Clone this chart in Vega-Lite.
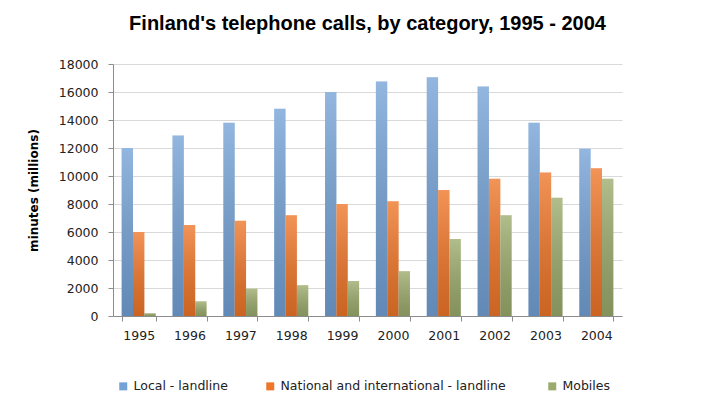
{
  "$schema": "https://vega.github.io/schema/vega-lite/v6.json",
  "autosize": "none",
  "width": 509,
  "height": 252,
  "padding": {"left": 113, "top": 64, "right": 79, "bottom": 80},
  "background": "white",
  "title": {"text": "Finland's telephone calls, by category, 1995 - 2004", "font": "Liberation Sans", "fontSize": 20, "fontWeight": "bold", "color": "#000000", "anchor": "middle", "offset": 24},
  "data": {"values": [
    {"year": "1995", "category": "Local - landline", "minutes": 12000},
    {"year": "1996", "category": "Local - landline", "minutes": 12900},
    {"year": "1997", "category": "Local - landline", "minutes": 13800},
    {"year": "1998", "category": "Local - landline", "minutes": 14800},
    {"year": "1999", "category": "Local - landline", "minutes": 16000},
    {"year": "2000", "category": "Local - landline", "minutes": 16750},
    {"year": "2001", "category": "Local - landline", "minutes": 17050},
    {"year": "2002", "category": "Local - landline", "minutes": 16400},
    {"year": "2003", "category": "Local - landline", "minutes": 13800},
    {"year": "2004", "category": "Local - landline", "minutes": 11950},
    {"year": "1995", "category": "National and international  - landline", "minutes": 6000},
    {"year": "1996", "category": "National and international  - landline", "minutes": 6500},
    {"year": "1997", "category": "National and international  - landline", "minutes": 6800},
    {"year": "1998", "category": "National and international  - landline", "minutes": 7200},
    {"year": "1999", "category": "National and international  - landline", "minutes": 8000},
    {"year": "2000", "category": "National and international  - landline", "minutes": 8200},
    {"year": "2001", "category": "National and international  - landline", "minutes": 9000},
    {"year": "2002", "category": "National and international  - landline", "minutes": 9800},
    {"year": "2003", "category": "National and international  - landline", "minutes": 10250},
    {"year": "2004", "category": "National and international  - landline", "minutes": 10550},
    {"year": "1995", "category": "Mobiles", "minutes": 200},
    {"year": "1996", "category": "Mobiles", "minutes": 1050},
    {"year": "1997", "category": "Mobiles", "minutes": 1950},
    {"year": "1998", "category": "Mobiles", "minutes": 2200},
    {"year": "1999", "category": "Mobiles", "minutes": 2500},
    {"year": "2000", "category": "Mobiles", "minutes": 3200},
    {"year": "2001", "category": "Mobiles", "minutes": 5500},
    {"year": "2002", "category": "Mobiles", "minutes": 7200},
    {"year": "2003", "category": "Mobiles", "minutes": 8450},
    {"year": "2004", "category": "Mobiles", "minutes": 9800}
  ]},
  "encoding": {
    "x": {
      "field": "year", "type": "nominal",
      "scale": {"paddingInner": 0.33, "paddingOuter": 0.17},
      "axis": {"title": null, "labelAngle": 0, "labelFont": "DejaVu Sans", "labelFontSize": 12.5, "labelColor": "#222222", "tickBand": "extent", "tickColor": "#8c8c8c", "tickSize": 5, "domainColor": "#8c8c8c", "labelPadding": 8, "grid": false}
    },
    "xOffset": {"field": "category", "type": "nominal", "sort": ["Local - landline", "National and international  - landline", "Mobiles"], "scale": {"paddingInner": 0}},
    "y": {
      "field": "minutes", "type": "quantitative", "stack": null,
      "scale": {"domain": [0, 18000]},
      "axis": {"values": [0, 2000, 4000, 6000, 8000, 10000, 12000, 14000, 16000, 18000], "format": "d", "grid": true, "gridColor": "#d9d9d9", "domainColor": "#8c8c8c", "tickColor": "#8c8c8c", "tickSize": 5, "labelPadding": 10, "labelFont": "DejaVu Sans", "labelFontSize": 12.5, "labelColor": "#222222", "title": "minutes  (millions)", "titleFont": "DejaVu Sans", "titleFontSize": 12, "titleFontWeight": "bold", "titleColor": "#000000", "titlePadding": 18}
    }
  },
  "layer": [
    {
      "mark": {"type": "bar"},
      "encoding": {
        "color": {
          "field": "category", "type": "nominal",
          "sort": ["Local - landline", "National and international  - landline", "Mobiles"],
          "scale": {"domain": ["Local - landline", "National and international  - landline", "Mobiles"], "range": ["#74a2d6", "#ef7628", "#9bab6c"]},
          "legend": {"title": null, "orient": "none", "legendX": 4, "legendY": 316, "direction": "horizontal", "symbolType": "square", "symbolSize": 64, "symbolStrokeWidth": 0, "labelFont": "DejaVu Sans", "labelFontSize": 12.5, "labelColor": "#222222", "columnPadding": 36, "labelLimit": 400}
        }
      }
    },
    {
      "mark": {"type": "bar", "fill": {"gradient": "linear", "x1": 0, "y1": 0, "x2": 0, "y2": 1, "stops": [{"offset": 0, "color": "rgba(255,255,255,0.22)"}, {"offset": 1, "color": "rgba(0,0,0,0.15)"}]}},
      "encoding": {}
    }
  ],
  "config": {"view": {"stroke": null}}
}
